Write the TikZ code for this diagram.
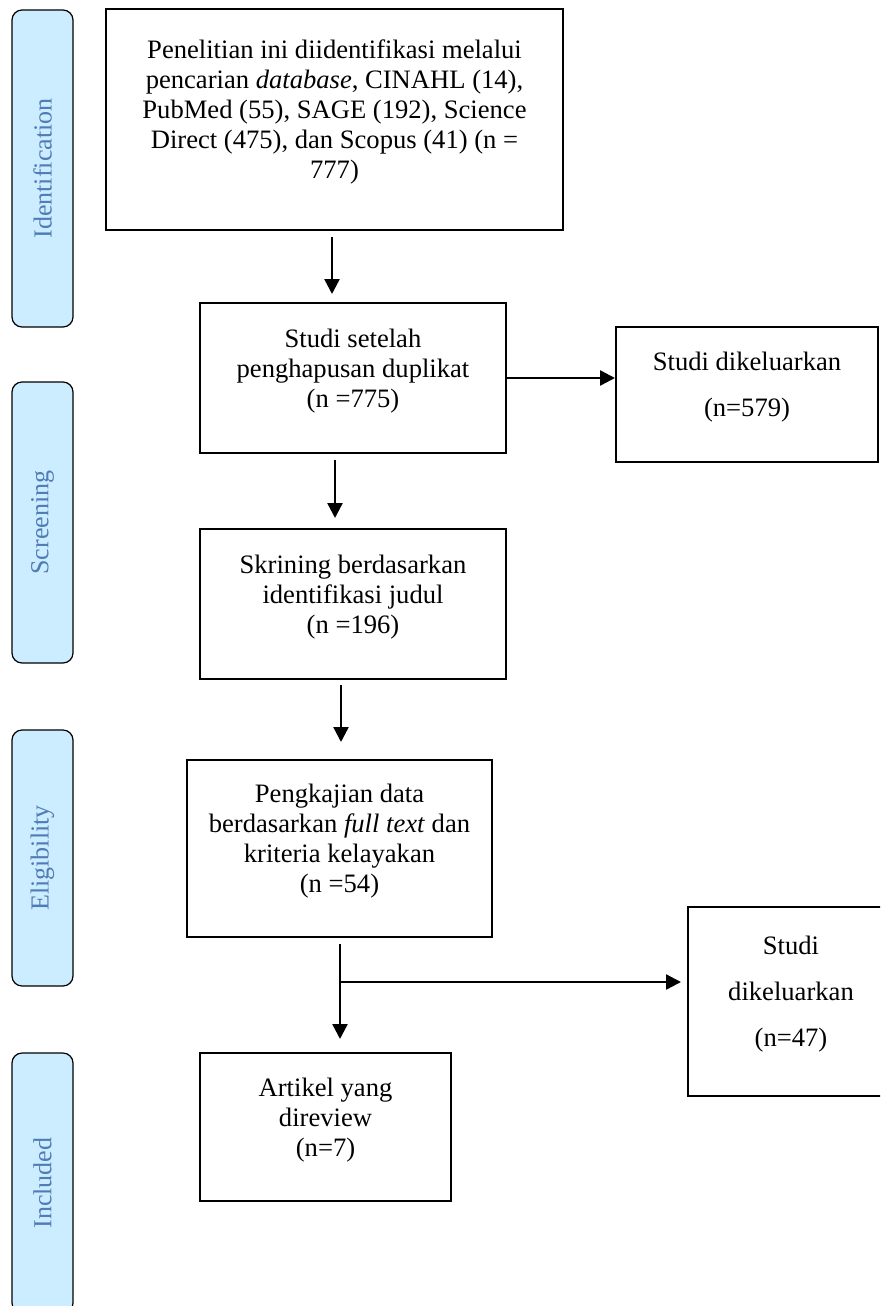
\documentclass[tikz,border=0pt]{standalone}
\usepackage{fontspec}
\setmainfont{Liberation Serif}
\usetikzlibrary{arrows.meta}
\definecolor{phasefill}{RGB}{204,236,255}
\definecolor{phasetext}{RGB}{79,124,181}
\begin{document}
\begin{tikzpicture}[x=0.5pt,y=-0.5pt]
\tikzstyle{phase}=[draw=black,line width=0.6pt,fill=phasefill,rounded corners=5pt,rotate=90,minimum height=30.5pt,inner sep=0pt,text=phasetext,font=\fontsize{13}{15}\selectfont]
\tikzstyle{box}=[draw=black,line width=1pt,align=center,inner sep=0pt,text depth=10pt,font=\fontsize{13.3}{15}\selectfont]
\tikzstyle{wide}=[box,font=\fontsize{13.3}{23}\selectfont]
\tikzstyle{edge}=[draw,line width=1.2pt,-{Triangle[length=7.5pt,width=7.5pt]}]
\useasboundingbox (0,0) rectangle (880,1306);
\clip (0,0) rectangle (880,1306);
% phases
\node[phase,minimum width=158.5pt] (ident) at (42.5,168.5) {Identification};
\node[phase,minimum width=140.5pt] (screen) at (42.5,522.5) {Screening};
\node[phase,minimum width=128pt] (elig) at (42.5,858) {Eligibility};
\node[phase,minimum width=130pt] (inclph) at (42.5,1183) {Included};
% boxes
\node[box,minimum width=228.5pt,minimum height=110.5pt] (search) at (334.5,119.5) {Penelitian ini diidentifikasi melalui\\ pencarian \textit{database}, CINAHL (14),\\ PubMed (55), SAGE (192), Science\\ Direct (475), dan Scopus (41) (n =\\ 777)};
\node[box,minimum width=153pt,minimum height=75pt] (dedup) at (353,378) {Studi setelah\\ penghapusan duplikat\\ (n =775)};
\node[wide,minimum width=131pt,minimum height=67.5pt] (excl1) at (747,394.5) {Studi dikeluarkan\\ (n=579)};
\node[box,minimum width=153pt,minimum height=75pt] (title) at (353,604) {Skrining berdasarkan\\ identifikasi judul\\ (n =196)};
\node[box,minimum width=152.5pt,minimum height=88.5pt] (full) at (339.5,848.5) {Pengkajian data\\ berdasarkan \textit{full text} dan\\ kriteria kelayakan\\ (n =54)};
\node[wide,minimum width=103pt,minimum height=94.5pt] (excl2) at (791,1001.5) {Studi\\ dikeluarkan\\ (n=47)};
\node[box,minimum width=125.5pt,minimum height=74pt] (incl) at (325.5,1127) {Artikel yang\\ direview\\ (n=7)};
% arrows
\path[edge,shorten <=3pt,shorten >=4pt] (search.south -| 332,0) -- (dedup.north -| 332,0);
\path[edge] (dedup.east) -- (excl1.west |- dedup.east);
\path[edge,shorten <=3pt,shorten >=5pt] (dedup.south -| 335,0) -- (title.north -| 335,0);
\path[edge,shorten <=2.5pt,shorten >=8.5pt] (title.south -| 341,0) -- (full.north -| 341,0);
\path[edge,shorten <=3pt,shorten >=6.5pt] (full.south -| 340,0) -- (incl.north -| 340,0);
\coordinate (split) at (340,982);
\path[edge,shorten >=3pt] (split) -- (excl2.west |- split);
\end{tikzpicture}
\end{document}
